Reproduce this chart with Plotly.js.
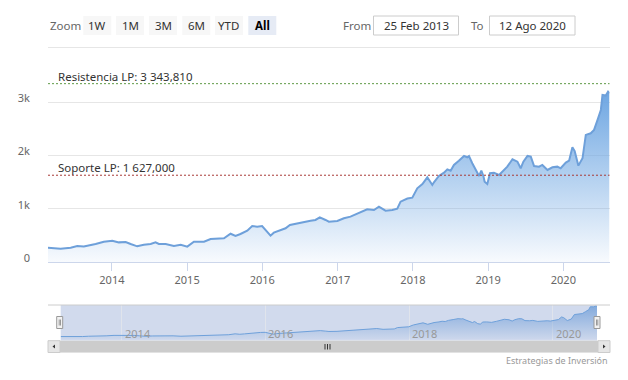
<!DOCTYPE html>
<html>
<head>
<meta charset="utf-8">
<script src="https://cdn.plot.ly/plotly-3.0.1.min.js"></script>
<style>
  html, body { margin: 0; padding: 0; background: #fff; }
  #chart { width: 628px; height: 380px; }
</style>
</head>
<body>
<div id="chart"></div>
<script>
// ---- data ----
const dates = [
  '2013-02-25','2013-04-27','2013-06-15','2013-07-17','2013-08-18','2013-09-20','2013-10-14','2013-11-23',
  '2014-01-03','2014-02-04','2014-03-09','2014-04-02','2014-05-04','2014-06-05','2014-07-08','2014-08-01',
  '2014-08-17','2014-09-19','2014-10-29','2014-12-01','2015-01-02','2015-02-03','2015-03-24','2015-04-25',
  '2015-06-29','2015-07-31','2015-08-24','2015-09-17','2015-10-20','2015-11-13','2015-12-07','2015-12-31',
  '2016-01-17','2016-02-10','2016-02-26','2016-03-29','2016-04-23','2016-05-14','2016-06-18','2016-07-21',
  '2016-08-22','2016-09-15','2016-10-06','2016-11-03','2016-11-19','2016-12-30','2017-01-31','2017-03-04',
  '2017-04-14','2017-05-24','2017-06-26','2017-07-20','2017-08-21','2017-09-23','2017-10-17','2017-11-02',
  '2017-12-05','2017-12-29','2018-01-22','2018-02-16','2018-03-12','2018-04-05','2018-04-13','2018-05-07',
  '2018-06-01','2018-06-17','2018-07-03','2018-07-19','2018-08-12','2018-09-06','2018-09-22','2018-09-30',
  '2018-10-16','2018-11-06','2018-11-18','2018-11-29','2018-12-09','2018-12-15','2018-12-28','2019-01-10',
  '2019-01-29','2019-02-23','2019-03-19','2019-04-04','2019-04-29','2019-05-23','2019-06-08','2019-06-21',
  '2019-07-11','2019-07-27','2019-08-12','2019-09-05','2019-09-21','2019-10-16','2019-11-09','2019-12-03',
  '2019-12-19','2020-01-13','2020-01-29','2020-02-14','2020-02-25','2020-03-14','2020-04-03','2020-04-19',
  '2020-05-13','2020-05-29','2020-06-15','2020-07-01','2020-07-09','2020-07-25','2020-08-05','2020-08-12'
];
const values = [
  268,250,268,300,290,313,338,381,
  400,368,375,338,294,325,338,369,
  338,338,300,325,288,381,381,431,
  444,530,488,525,588,675,663,675,
  600,494,550,588,632,694,725,744,
  775,788,838,788,757,769,819,850,
  913,988,975,1037,963,975,1000,1131,
  1190,1206,1382,1460,1588,1445,1495,1613,
  1675,1738,1713,1820,1900,1988,1964,1988,
  1851,1694,1613,1713,1613,1507,1463,1664,
  1675,1632,1726,1788,1927,1882,1757,1882,
  1988,1976,1800,1788,1820,1726,1775,1788,
  1757,1863,1900,2150,2080,1807,1945,2383,
  2413,2476,2664,2851,3133,3120,3195,3164
];
const yTickVals = [0, 1000, 2000, 3000];
const yTickText = ['0', '1k', '2k', '3k'];
const xTickVals = ['2014-01-01','2015-01-01','2016-01-01','2017-01-01','2018-01-01','2019-01-01','2020-01-01'];
const xTickText = ['2014','2015','2016','2017','2018','2019','2020'];
const navTickVals = ['2014-01-01','2016-01-01','2018-01-01','2020-01-01'];
const navTickText = ['2014','2016','2018','2020'];
const resistencia = 3343.81;
const soporte = 1627.0;
const resistenciaLabel = 'Resistencia LP: 3 343,810';
const soporteLabel = 'Soporte LP: 1 627,000';
const rangeButtons = ['1W','1M','3M','6M','YTD','All'];
const fromText = '25 Feb 2013';
const toText = '12 Ago 2020';
const startDate = '2013-02-25';
const endDate = '2020-08-12';

// ---- layout helpers (pixel -> paper) ----
const W = 628, H = 380;
const px = x => x / W;
const py = y => 1 - y / H;
const FONT = 'Noto Sans, DejaVu Sans, sans-serif';
const LINE = '#6ea0da';

const traces = [
  {
    x: dates, y: values, type: 'scatter', mode: 'lines',
    line: { color: LINE, width: 2 },
    fill: 'tozeroy',
    fillgradient: { type: 'vertical', start: 0, stop: 3195,
      colorscale: [[0, 'rgba(110,166,226,0.05)'], [1, 'rgba(110,166,226,1)']] },
    xaxis: 'x', yaxis: 'y', hoverinfo: 'skip'
  },
  {
    x: dates, y: values, type: 'scatter', mode: 'lines',
    line: { color: LINE, width: 1 },
    fill: 'tozeroy',
    fillgradient: { type: 'vertical', start: 0, stop: 3195,
      colorscale: [[0, 'rgba(106,155,215,0.05)'], [1, 'rgba(106,155,215,0.75)']] },
    xaxis: 'x2', yaxis: 'y2', hoverinfo: 'skip'
  }
];

const shapes = [];
const annotations = [];

// navigator mask background (under series)
shapes.push({ type: 'rect', xref: 'paper', yref: 'paper', layer: 'below',
  x0: px(60.7), x1: px(597), y0: py(340.7), y1: py(305),
  fillcolor: '#d1daed', line: { width: 0 } });
// top separator line under range selector
shapes.push({ type: 'line', xref: 'paper', yref: 'paper', x0: px(48), x1: px(610), y0: py(47.5), y1: py(47.5),
  line: { color: '#e6e6e6', width: 1 } });
// navigator outline top
shapes.push({ type: 'line', xref: 'paper', yref: 'paper', x0: px(48), x1: px(610), y0: py(305), y1: py(305),
  line: { color: '#cccccc', width: 1 } });

// plot lines
shapes.push({ type: 'line', xref: 'x domain', yref: 'y', x0: 0, x1: 1, y0: resistencia, y1: resistencia,
  line: { color: '#5e9a45', width: 1, dash: '2px,2px' } });
shapes.push({ type: 'line', xref: 'x domain', yref: 'y', x0: 0, x1: 1, y0: soporte, y1: soporte,
  line: { color: '#a83a36', width: 1, dash: '2px,2px' } });
annotations.push({ xref: 'paper', yref: 'y', x: px(56), y: resistencia, xanchor: 'left', yanchor: 'bottom',
  text: resistenciaLabel, showarrow: false, font: { family: FONT, size: 11.5, color: '#333' }, yshift: -2 });
annotations.push({ xref: 'paper', yref: 'y', x: px(56), y: soporte, xanchor: 'left', yanchor: 'bottom',
  text: soporteLabel, showarrow: false, font: { family: FONT, size: 11.5, color: '#333' }, yshift: -2 });

// range selector
annotations.push({ xref: 'paper', yref: 'paper', x: px(48), y: py(25.5), xanchor: 'left', yanchor: 'middle',
  text: 'Zoom', showarrow: false, font: { family: FONT, size: 11.5, color: '#666' } });
const btnX = [83.3, 116, 149, 182.3, 215, 248.3];
rangeButtons.forEach((b, i) => {
  const sel = b === 'All';
  shapes.push({ type: 'rect', xref: 'paper', yref: 'paper', x0: px(btnX[i]), x1: px(btnX[i] + 28), y0: py(35), y1: py(16),
    fillcolor: sel ? '#e6ebf5' : '#f7f7f7', line: { width: 0 } });
  annotations.push({ xref: 'paper', yref: 'paper', x: px(btnX[i] + 14), y: py(25.5), xanchor: 'center', yanchor: 'middle',
    text: sel ? '<b>' + b + '</b>' : b, showarrow: false, font: { family: FONT, size: 11.5, color: sel ? '#000' : '#333' } });
});
annotations.push({ xref: 'paper', yref: 'paper', x: px(341), y: py(25.5), xanchor: 'left', yanchor: 'middle',
  text: 'From', showarrow: false, font: { family: FONT, size: 11.5, color: '#666' } });
annotations.push({ xref: 'paper', yref: 'paper', x: px(469), y: py(25.5), xanchor: 'left', yanchor: 'middle',
  text: 'To', showarrow: false, font: { family: FONT, size: 11.5, color: '#666' } });
[[373.5, 458.5, fromText], [489.5, 575, toText]].forEach(([a, b, t]) => {
  shapes.push({ type: 'rect', xref: 'paper', yref: 'paper', x0: px(a), x1: px(b), y0: py(35), y1: py(16),
    fillcolor: '#ffffff', line: { color: '#cccccc', width: 1 } });
  annotations.push({ xref: 'paper', yref: 'paper', x: px((a + b) / 2), y: py(25.5), xanchor: 'center', yanchor: 'middle',
    text: t, showarrow: false, font: { family: FONT, size: 11.5, color: '#333' } });
});

// navigator labels
navTickVals.forEach((v, i) => {
  annotations.push({ xref: 'x2', yref: 'paper', x: v, y: py(333.5), xanchor: 'left', yanchor: 'middle', xshift: 1,
    text: navTickText[i], showarrow: false, font: { family: FONT, size: 11, color: '#999' } });
});

// navigator handles
[[56.7, 62.7], [594, 600]].forEach(([a, b]) => {
  shapes.push({ type: 'rect', xref: 'paper', yref: 'paper', x0: px(a), x1: px(b), y0: py(328.5), y1: py(316.5),
    fillcolor: '#f2f2f2', line: { color: '#999999', width: 1 } });
  shapes.push({ type: 'line', xref: 'paper', yref: 'paper', x0: px(a + 2.5), x1: px(a + 2.5), y0: py(325.5), y1: py(319.5),
    line: { color: '#999999', width: 1 } });
  shapes.push({ type: 'line', xref: 'paper', yref: 'paper', x0: px(a + 3.8), x1: px(a + 3.8), y0: py(325.5), y1: py(319.5),
    line: { color: '#999999', width: 1 } });
});

// scrollbar
shapes.push({ type: 'rect', xref: 'paper', yref: 'paper', x0: px(48), x1: px(610), y0: py(352.5), y1: py(340.7),
  fillcolor: '#f2f2f2', line: { width: 0 } });
shapes.push({ type: 'rect', xref: 'paper', yref: 'paper', x0: px(60), x1: px(598), y0: py(352.5), y1: py(340.7),
  fillcolor: '#cccccc', line: { width: 0 } });
shapes.push({ type: 'rect', xref: 'paper', yref: 'paper', x0: px(48), x1: px(60), y0: py(352.5), y1: py(340.7),
  fillcolor: '#e6e6e6', line: { color: '#cccccc', width: 1 } });
shapes.push({ type: 'rect', xref: 'paper', yref: 'paper', x0: px(598), x1: px(610), y0: py(352.5), y1: py(340.7),
  fillcolor: '#e6e6e6', line: { color: '#cccccc', width: 1 } });
shapes.push({ type: 'path', xref: 'paper', yref: 'paper', fillcolor: '#333', line: { width: 0 },
  path: `M ${px(52.5)} ${py(346.6)} L ${px(55)} ${py(344.6)} L ${px(55)} ${py(348.6)} Z` });
shapes.push({ type: 'path', xref: 'paper', yref: 'paper', fillcolor: '#333', line: { width: 0 },
  path: `M ${px(605.5)} ${py(346.6)} L ${px(603)} ${py(344.6)} L ${px(603)} ${py(348.6)} Z` });
[325, 327.5, 330].forEach(x => {
  shapes.push({ type: 'line', xref: 'paper', yref: 'paper', x0: px(x), x1: px(x), y0: py(344), y1: py(349.5),
    line: { color: '#333', width: 1 } });
});

// credits
annotations.push({ xref: 'paper', yref: 'paper', x: px(610), y: py(360), xanchor: 'right', yanchor: 'middle',
  text: 'Estrategias de Inversión', showarrow: false, font: { family: FONT, size: 9, color: '#999' } });

const layout = {
  width: W, height: H,
  margin: { l: 0, r: 0, t: 0, b: 0, pad: 0 },
  paper_bgcolor: '#fff', plot_bgcolor: 'rgba(0,0,0,0)',
  showlegend: false,
  font: { family: FONT, size: 11, color: '#666' },
  xaxis: {
    domain: [px(48), px(609.5)], range: [startDate, endDate], type: 'date',
    tickmode: 'array', tickvals: xTickVals, ticktext: xTickText,
    ticks: 'outside', ticklen: 8, tickcolor: '#ccd6eb', tickwidth: 1,
    showline: true, linecolor: '#ccd6eb', linewidth: 1,
    showgrid: false, zeroline: false, fixedrange: true,
    tickfont: { family: FONT, size: 11, color: '#666' }
  },
  yaxis: {
    domain: [py(262), py(62)], range: [0, 3750],
    tickmode: 'array', tickvals: yTickVals, ticktext: yTickText,
    showgrid: true, gridcolor: '#e6e6e6', gridwidth: 1, zeroline: false, showline: false,
    ticks: '', ticklabelstandoff: 17, ticklabelshift: -4, fixedrange: true,
    tickfont: { family: FONT, size: 11, color: '#666' }
  },
  xaxis2: {
    domain: [px(60.7), px(597)], range: [startDate, endDate], type: 'date', anchor: 'y2',
    tickmode: 'array', tickvals: navTickVals, showticklabels: false,
    showgrid: true, gridcolor: '#e0e4ec', gridwidth: 1, zeroline: false, showline: false, ticks: '', fixedrange: true
  },
  yaxis2: {
    domain: [py(340.7), py(305)], range: [-130, 3300], anchor: 'x2',
    showgrid: false, zeroline: false, showticklabels: false, ticks: '', fixedrange: true
  },
  shapes: shapes,
  annotations: annotations
};

Plotly.newPlot('chart', traces, layout, { displayModeBar: false, staticPlot: true });
</script>
</body>
</html>
